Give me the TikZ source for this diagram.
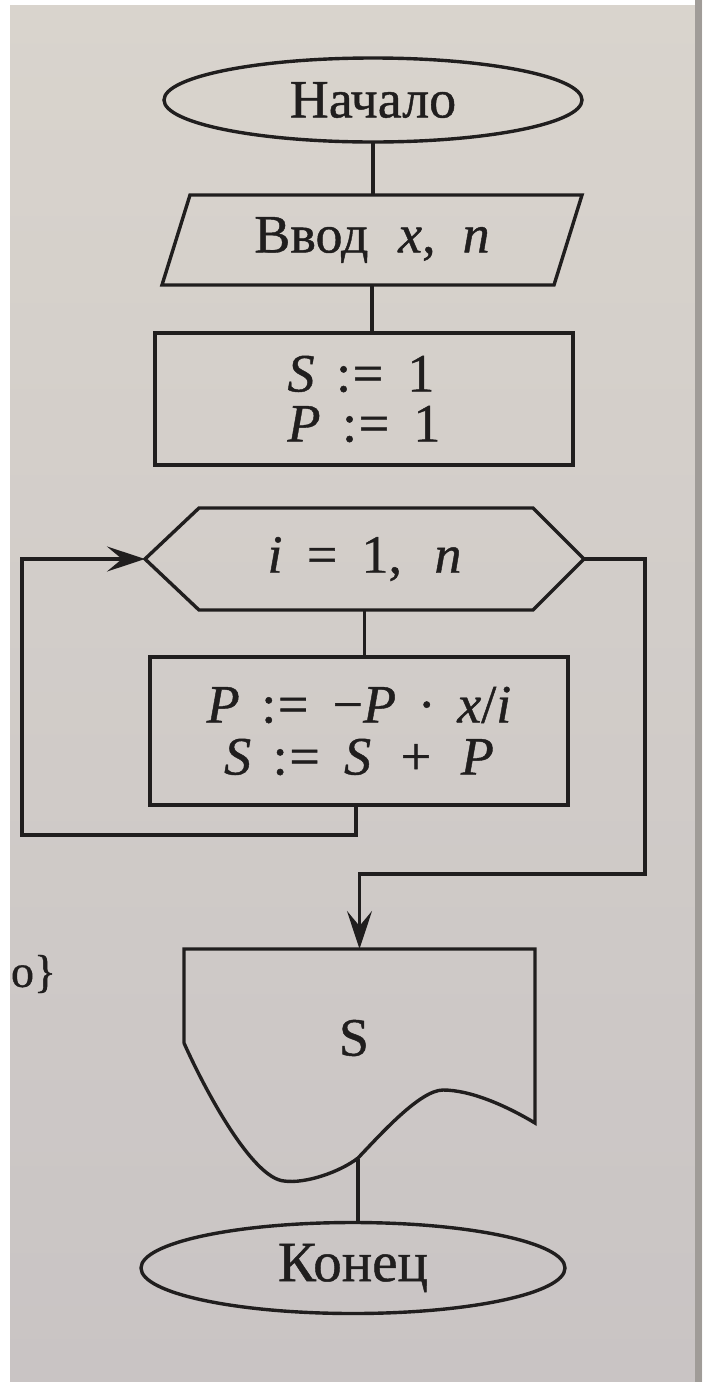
\documentclass[tikz,border=0pt]{standalone}
\usepackage{fontspec}
\setmainfont{Liberation Serif}[FakeBold=0.8]
\usetikzlibrary{arrows.meta,calc,shapes.geometric}
\definecolor{ink}{RGB}{32,30,30}
\definecolor{pagetop}{RGB}{217,212,205}
\definecolor{pagebot}{RGB}{201,196,196}
\definecolor{edgegray}{RGB}{160,156,152}
\newcommand\fsA{\fontsize{54}{62}\selectfont}
\newcommand\asg{\hspace{0.4em}:\kern0.03em=\hspace{0.45em}}
\begin{document}
\begin{tikzpicture}[x=1pt,y=-1pt,line width=3.4pt,
  blk/.style={draw=none,inner sep=0pt,outer sep=0pt,text=ink,font=\fsA},
  term/.style={ellipse,draw=ink,line width=3.4pt,inner sep=0pt,outer sep=0pt,text=ink,font=\fsA},
  shp/.style={draw=ink,line width=3.4pt,line join=miter},
  con/.style={draw=ink,line width=3.4pt},
  arr/.style={con,-{Stealth[length=38pt,width=25pt,inset=15pt]}}]
\useasboundingbox (0,0) rectangle (702,1382);
% page
\shade[top color=pagetop,bottom color=pagebot] (0,0) rectangle (702,1382);
\fill[white] (0,0) rectangle (10,1382);
\fill[white] (0,0) rectangle (702,5);
\fill[edgegray] (695,0) rectangle (702,1382);
\node[blk,anchor=west,font=\fontsize{46}{54}\selectfont] (margin) at (11,974) {o\}};
% blocks
\node[term,minimum width=418pt,minimum height=84pt] (start) at (373,100) {Начало};
\node[blk,minimum width=392pt,minimum height=90pt] (inp) at (372,240) {Ввод\hspace{0.55em}\textit{x},\hspace{0.5em}\textit{n}};
\draw[shp] ($(inp.north west)+(14,0)$) -- ($(inp.north east)+(14,0)$) -- ($(inp.south east)+(-14,0)$) -- ($(inp.south west)+(-14,0)$) -- cycle;
\node[blk,draw=ink,line width=3.4pt,minimum width=418pt,minimum height=132pt,align=left] (init) at (364,399)
  {\textit{S}\asg 1\\[-12pt]\textit{P}\asg 1};
\node[blk,minimum width=439pt,minimum height=102pt] (hex) at (364.5,559) {\textit{i}\hspace{0.45em}=\hspace{0.45em}1,\hspace{0.6em}\textit{n}};
\draw[shp] (hex.west) -- ($(hex.north west)+(54,0)$) -- ($(hex.north east)+(-51,0)$) -- (hex.east) -- ($(hex.south east)+(-51,0)$) -- ($(hex.south west)+(54,0)$) -- cycle;
\node[blk,draw=ink,line width=3.4pt,minimum width=418pt,minimum height=148pt,align=center] (body) at (359,731)
  {\textit{P}\asg −\textit{P}\hspace{0.4em}·\hspace{0.4em}\textit{x}/\textit{i}\\[-10pt]\textit{S}\asg\textit{S}\hspace{0.55em}+\hspace{0.55em}\textit{P}};
\node[blk,minimum width=351pt,minimum height=94pt] (out) at (359.5,996) {};
\node[blk,font=\fontsize{54}{62}\selectfont] (outtext) at (354,1038) {S};
\draw[shp] (out.south west) -- (out.north west) -- (out.north east) -- ($(out.north east)+(0,174)$)
  .. controls (505,1105) and (470,1090) .. (443,1090)
  .. controls (420,1090) and (380,1135) .. (358,1158)
  .. controls (340,1172) and (305,1184) .. (284,1181)
  .. controls (252,1178) and (205,1090) .. (out.south west);
\coordinate (tail) at (358,1159);
\node[term,minimum width=424pt,minimum height=91pt,font=\fontsize{57}{64}\selectfont] (stop) at (353,1268) {Конец};
% connectors
\draw[con] (start.south) -- (start.south |- inp.north);
\draw[con] (inp.south) -- (inp.south |- init.north);
\draw[con] ($(init.south)+(6,0)$) -- ($(init.south)+(6,0)$ |- hex.north);
\draw[con] (hex.south) -- (hex.south |- body.north);
\draw[arr] ($(body.south)+(-3,0)$) -- ++(0,30) -| ($(hex.west)+(-123,0)$) -- (hex.west);
\draw[arr] (hex.east) -- ++(61,0) |- ($(out.north)+(0,-75)$) -- (out.north);
\draw[con] (tail) -- (tail |- stop.north);
\end{tikzpicture}
\end{document}
